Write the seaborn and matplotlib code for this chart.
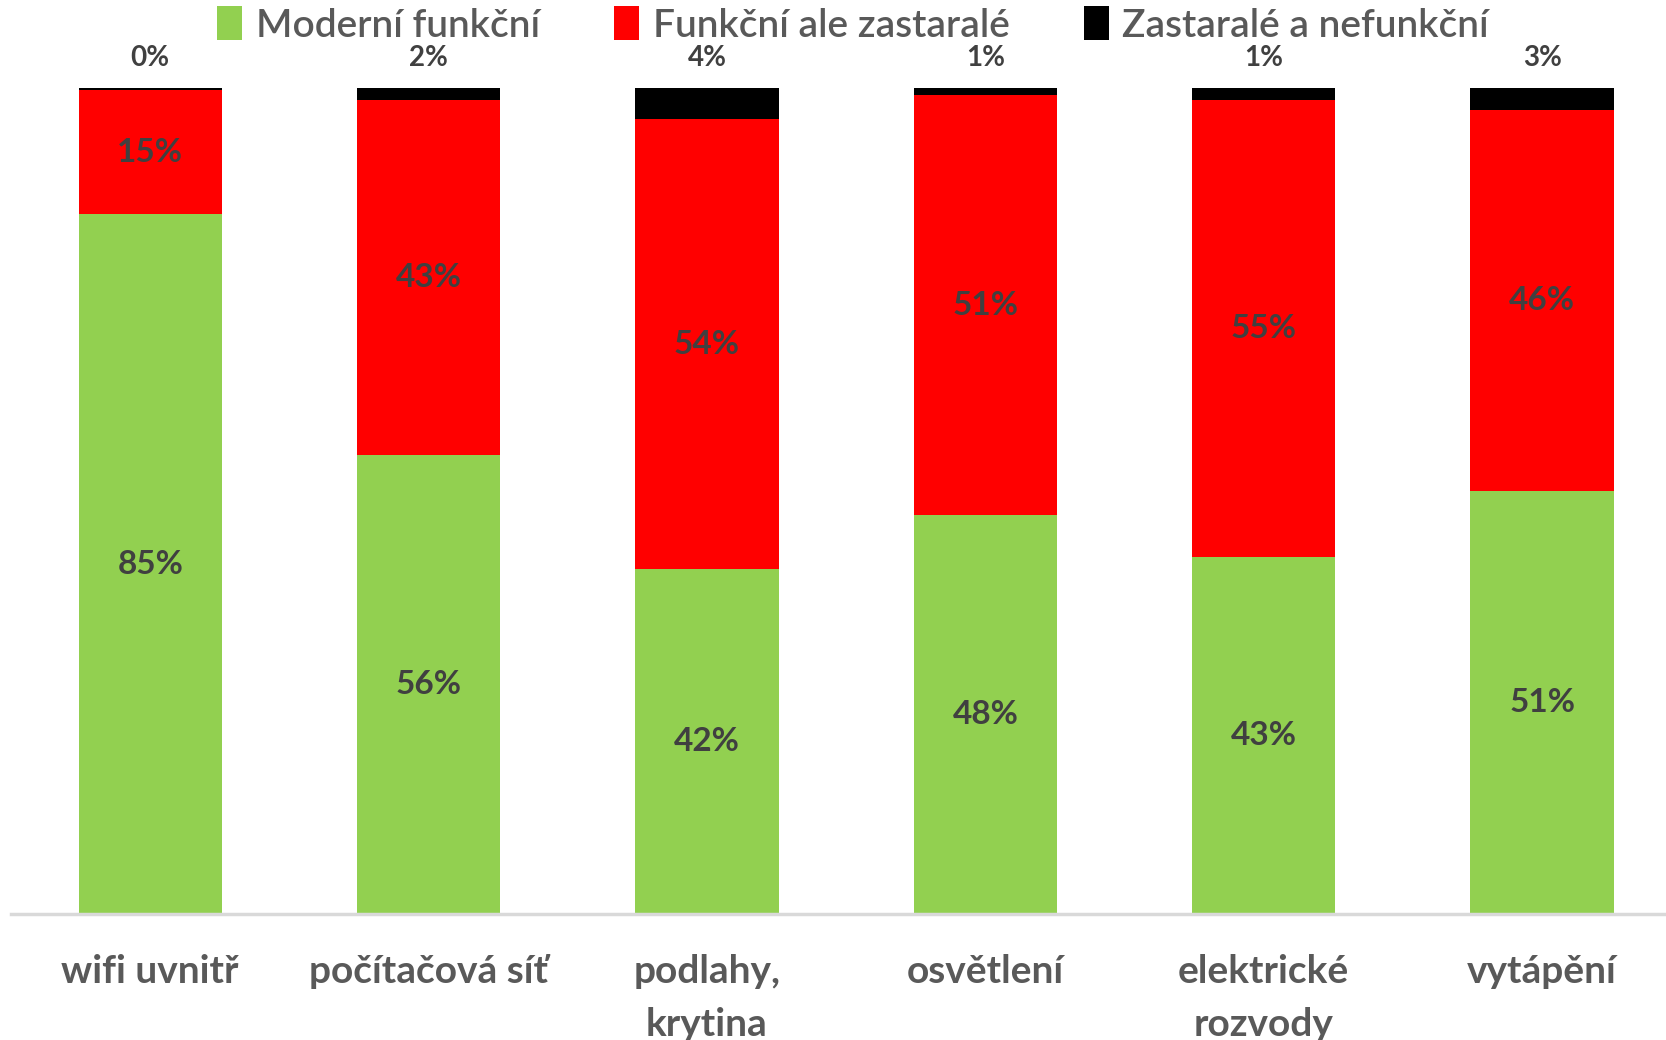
import matplotlib
matplotlib.use("Agg")
import matplotlib.pyplot as plt
from matplotlib.patches import Patch
import numpy as np
import seaborn as sns

categories = ["wifi uvnitř", "počítačová síť", "podlahy,\nkrytina", "osvětlení", "elektrické\nrozvody", "vytápění"]
series_names = ["Moderní funkční", "Funkční ale zastaralé", "Zastaralé a nefunkční"]
moderni = [84.7, 55.6, 41.8, 48.3, 43.2, 51.2]
zastarale = [15.0, 42.9, 54.4, 50.8, 55.4, 46.1]
nefunkcni = [0.3, 1.5, 3.8, 0.9, 1.4, 2.7]
colors = ["#92D050", "#FF0000", "#000000"]

sns.set_theme(style="white")
plt.rcParams["font.family"] = ["Lato", "DejaVu Sans"]

fig = plt.figure(figsize=(16.66, 10.4), dpi=100)
ax = fig.add_axes([11 / 1666, 126 / 1040, 1655 / 1666, 826 / 1040])

x = np.arange(len(categories))
g = np.array(moderni) / 100
r = np.array(zastarale) / 100
b = np.array(nefunkcni) / 100

sns.barplot(x=x, y=g, color=colors[0], width=0.515, ax=ax, saturation=1, linewidth=0)
sns.barplot(x=x, y=r, bottom=g, color=colors[1], width=0.515, ax=ax, saturation=1, linewidth=0)
sns.barplot(x=x, y=b, bottom=g + r, color=colors[2], width=0.515, ax=ax, saturation=1, linewidth=0)

lab_col = "#404040"
for i in range(len(categories)):
    ax.text(i, g[i] / 2, f"{moderni[i]:.0f}%", ha="center", va="center",
            fontsize=24, fontweight="bold", color=lab_col)
    ax.text(i, g[i] + r[i] / 2, f"{zastarale[i]:.0f}%", ha="center", va="center",
            fontsize=24, fontweight="bold", color=lab_col)
    ax.text(i, 1.036, f"{nefunkcni[i]:.0f}%", ha="center", va="center",
            fontsize=20, fontweight="bold", color=lab_col, clip_on=False)

ax.set_xlim(-0.5, 5.445)
ax.set_ylim(0, 1)
ax.set_xticks(x)
ax.set_xticklabels(categories, fontsize=28, fontweight="bold", color="#595959", linespacing=1.62)
ax.tick_params(axis="x", length=0, pad=29)
ax.set_yticks([])
for s in ["top", "left", "right"]:
    ax.spines[s].set_visible(False)
ax.spines["bottom"].set_color("#D9D9D9")
ax.spines["bottom"].set_linewidth(2.5)
ax.set_xlabel("")
ax.set_ylabel("")

handles = [Patch(facecolor=c, edgecolor="none") for c in colors]
leg = fig.legend(handles, series_names, loc="center", bbox_to_anchor=(0.512, 1 - 25 / 1040), ncol=3,
                 frameon=False, labelcolor="#595959", handlelength=0.65, handleheight=0.95,
                 handletextpad=0.35, columnspacing=1.9, borderaxespad=0,
                 prop={"size": 28, "weight": "semibold"})

fig.savefig("out.png", dpi=100)
